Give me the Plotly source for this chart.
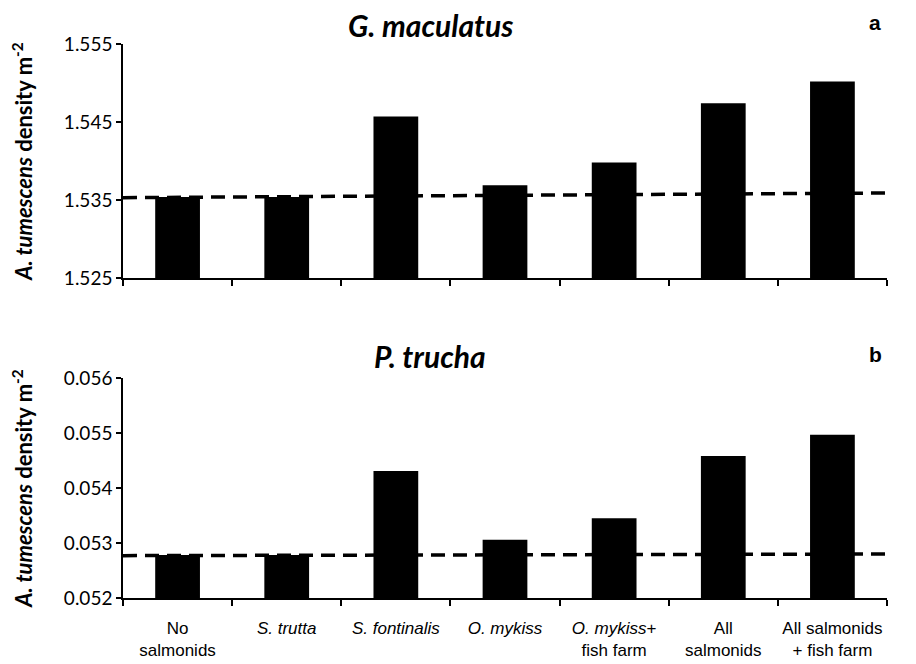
import plotly.graph_objects as go

categories = ["No<br>salmonids", "<i>S. trutta</i>", "<i>S. fontinalis</i>", "<i>O. mykiss</i>",
              "<i>O. mykiss</i>+<br>fish farm", "All<br>salmonids", "All salmonids<br>+ fish farm"]
values_a = [1.5354, 1.5354, 1.5457, 1.5369, 1.5398, 1.5474, 1.5502]
values_b = [0.05278, 0.05278, 0.05431, 0.05306, 0.05345, 0.05458, 0.05497]
ref_a = [1.5353, 1.5359]
ref_b = [0.05277, 0.05280]
ticks_a = [1.525, 1.535, 1.545, 1.555]
ticks_b = [0.052, 0.053, 0.054, 0.055, 0.056]
titles = ["G. maculatus", "P. trucha"]
panel_letters = ["a", "b"]
ytitle = "<b><i>A. tumescens</i> density m<sup>-2</sup></b>"

# page body has an 8px margin; figure is sized so it fits the window
OFF = 8
W, H = 916 - OFF, 664 - OFF
L, R = 123 - OFF, 887 - OFF
dom_a = [1 - (278 - OFF) / H, 1 - (44 - OFF) / H]
dom_b = [1 - (598 - OFF) / H, 1 - (378 - OFF) / H]

fig = go.Figure()
fig.add_trace(go.Bar(x=categories, y=values_a, marker=dict(color="black", line=dict(width=0)),
                     xaxis="x", yaxis="y", showlegend=False))
fig.add_trace(go.Bar(x=categories, y=values_b, marker=dict(color="black", line=dict(width=0)),
                     xaxis="x2", yaxis="y2", showlegend=False))

dash = dict(color="black", width=3.5, dash="14px,8px")
fig.add_shape(type="line", xref="x domain", yref="y", x0=0, x1=1, y0=ref_a[0], y1=ref_a[1], line=dash)
fig.add_shape(type="line", xref="x2 domain", yref="y2", x0=0, x1=1, y0=ref_b[0], y1=ref_b[1], line=dash)

xcommon = dict(type="category", showline=True, linecolor="black", linewidth=1.5,
               ticks="outside", tickson="boundaries", ticklen=6, tickcolor="black", tickwidth=1.5,
               showgrid=False, zeroline=False, domain=[0, 1], ticklabelstandoff=14,
               tickangle=0, automargin=False,
               tickfont=dict(family="Liberation Sans, Arial", size=17, color="black"))
ycommon = dict(showline=True, linecolor="black", linewidth=1.5, ticks="outside", ticklen=5,
               tickcolor="black", tickwidth=1.5, showgrid=False, zeroline=False, automargin=False,
               tickfont=dict(family="Lato", size=19, color="black"),
               title=dict(text=ytitle, font=dict(family="Lato", size=22, color="black"), standoff=33))

fig.update_layout(
    width=W, height=H, margin=dict(l=L, r=W - R, t=0, b=0, autoexpand=False),
    paper_bgcolor="white", plot_bgcolor="white", bargap=0.59,
    xaxis=dict(xcommon, anchor="y", showticklabels=False),
    yaxis=dict(ycommon, domain=dom_a, range=[ticks_a[0], ticks_a[-1]], tickvals=ticks_a,
               ticktext=[f"{v:.3f}" for v in ticks_a], anchor="x"),
    xaxis2=dict(xcommon, anchor="y2"),
    yaxis2=dict(ycommon, domain=dom_b, range=[ticks_b[0], ticks_b[-1]], tickvals=ticks_b,
                ticktext=[f"{v:.3f}" for v in ticks_b], anchor="x2"),
)

tx = (430 - 123) / (887 - 123)
lx = (875 - 123) / (887 - 123)
for t, letter, yc, lc in zip(titles, panel_letters,
                             [1 - (25 - OFF) / H, 1 - (356 - OFF) / H],
                             [1 - (22 - OFF) / H, 1 - (354 - OFF) / H]):
    fig.add_annotation(text=f"<b><i>{t}</i></b>", xref="paper", yref="paper", x=tx, y=yc,
                       xanchor="center", yanchor="middle", borderpad=0,
                       showarrow=False, font=dict(family="Lato", size=30, color="black"))
    fig.add_annotation(text=f"<b>{letter}</b>", xref="paper", yref="paper", x=lx, y=lc,
                       xanchor="center", yanchor="middle", borderpad=0,
                       showarrow=False, font=dict(family="Liberation Sans", size=21, color="black"))

fig.write_html("out.html")
